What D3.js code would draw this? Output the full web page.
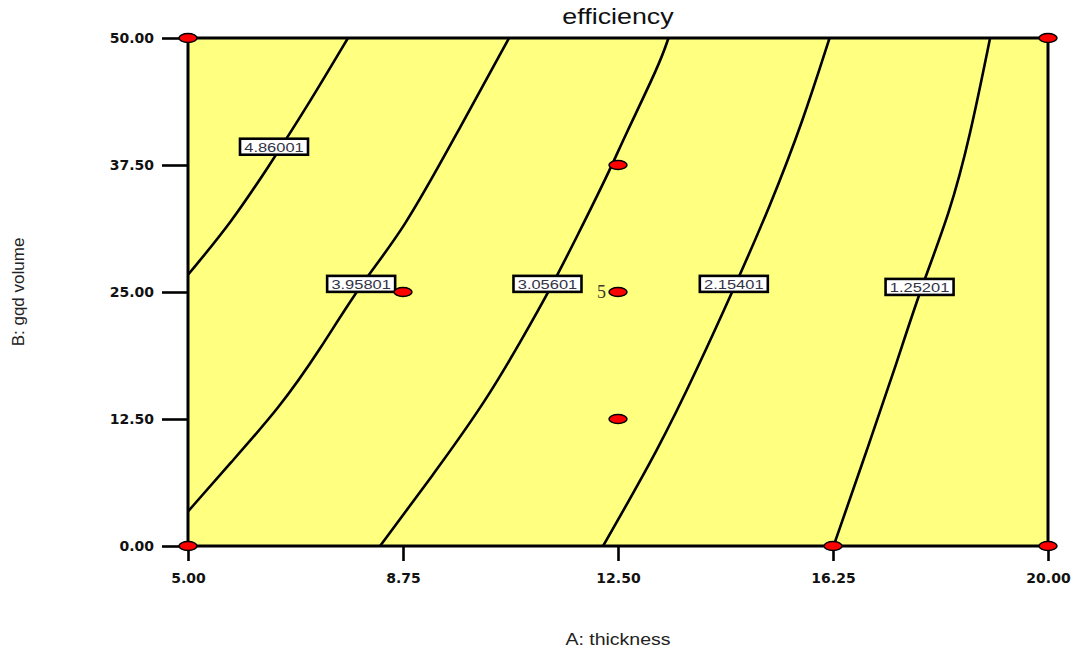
<!DOCTYPE html>
<html>
<head>
<meta charset="utf-8">
<script src="https://cdn.jsdelivr.net/npm/d3@7"></script>
<style>
  body { margin: 0; background: #fff; }
  svg { display: block; }
</style>
</head>
<body>
<script>
// A: thickness (x), B: gqd volume (y)
const aTicks = [5, 8.75, 12.5, 16.25, 20];
const bTicks = [0, 12.5, 25, 37.5, 50];

// contour levels of efficiency and the points [A, B]
const levels = ["4.86001", "3.95801", "3.05601", "2.15401", "1.25201"];
const contour486 = [[7.79, 50], [7.05, 43.0], [6.40, 37.3], [5.75, 31.8], [5.0, 26.7]];
const contour396 = [[10.60, 50], [9.63, 40.0], [8.76, 31.1], [8.0, 25.7], [7.30, 19.3], [6.61, 13.7], [5.73, 8.1], [5.0, 3.4]];
const contour306 = [[13.38, 50], [13.23, 47.5], [12.59, 40.0], [12.36, 37.0], [11.78, 30.4], [11.31, 25.2], [10.85, 20.6], [10.21, 14.4], [9.34, 7.5], [8.35, 0]];
const contour215 = [[16.19, 50], [15.73, 41.9], [15.15, 33.4], [14.51, 25.2], [13.87, 17.3], [13.23, 9.8], [12.24, 0]];
const contour125 = [[18.99, 50], [18.64, 40.3], [18.29, 32.8], [17.77, 25.2], [17.36, 18.0], [16.90, 10.4], [16.26, 0]];
const contours = [contour486, contour396, contour306, contour215, contour125];
// where each level label sits [A, B]
const labelAt = [[6.50, 39.3], [8.02, 25.8], [11.27, 25.8], [14.52, 25.8], [17.76, 25.5]];

// design points, the centre point has 5 replicates
const designPoints = [[5, 0], [5, 50], [20, 0], [20, 50], [8.75, 25], [12.5, 37.5], [12.5, 25], [12.5, 12.5], [16.25, 0]];
const replicates = [{a: 12.5, b: 25, n: 5}];

const W = 1076, H = 653;
const margin = {top: 38, right: 28, bottom: 107, left: 188};
const stretch = 1.22;

const svg = d3.select("body").append("svg")
  .attr("width", W)
  .attr("height", H);

const x = d3.scaleLinear().domain([5, 20]).range([margin.left, W - margin.right]);
const y = d3.scaleLinear().domain([0, 50]).range([H - margin.bottom, margin.top]);

svg.append("clipPath").attr("id", "plotclip")
  .append("rect")
  .attr("x", x(5)).attr("y", y(50))
  .attr("width", x(20) - x(5)).attr("height", y(0) - y(50));

// background
svg.append("rect")
  .attr("x", x(5)).attr("y", y(50))
  .attr("width", x(20) - x(5)).attr("height", y(0) - y(50))
  .attr("fill", "#ffff80");

// contour lines
const line = d3.line()
  .x(d => x(d[0]))
  .y(d => y(d[1]))
  .curve(d3.curveBasis);

svg.append("g").attr("clip-path", "url(#plotclip)")
  .selectAll("path")
  .data(contours)
  .enter()
  .append("path")
  .attr("d", line)
  .attr("fill", "none")
  .attr("stroke", "#000")
  .attr("stroke-width", 2.6);

// level labels
const labels = svg.append("g")
  .selectAll("g")
  .data(levels)
  .enter()
  .append("g")
  .attr("transform", (d, i) => "translate(" + x(labelAt[i][0]) + "," + y(labelAt[i][1]) + ")");

labels.append("rect")
  .attr("x", -34).attr("y", -8)
  .attr("width", 68).attr("height", 16)
  .attr("fill", "#fff")
  .attr("stroke", "#000")
  .attr("stroke-width", 2.6);

labels.append("text")
  .attr("transform", "scale(" + stretch + ",1)")
  .attr("y", 5)
  .attr("text-anchor", "middle")
  .style("font-family", "Arial, 'Liberation Sans', sans-serif")
  .style("font-size", "13.5px")
  .attr("fill", "#333344")
  .text(d => d);

// frame
svg.append("rect")
  .attr("x", x(5)).attr("y", y(50))
  .attr("width", x(20) - x(5)).attr("height", y(0) - y(50))
  .attr("fill", "none")
  .attr("stroke", "#000")
  .attr("stroke-width", 3);

// axes
const xAxis = svg.append("g")
  .attr("transform", "translate(0," + y(0) + ")")
  .call(d3.axisBottom(x).tickValues(aTicks).tickSize(15).tickPadding(12).tickFormat(d3.format(".2f")));

const yAxis = svg.append("g")
  .attr("transform", "translate(" + x(5) + ",0)")
  .call(d3.axisLeft(y).tickValues(bTicks).tickSize(26).tickPadding(8).tickFormat(d3.format(".2f")));

[xAxis, yAxis].forEach(ax => {
  ax.select(".domain").remove();
  ax.selectAll(".tick line").attr("stroke", "#000").attr("stroke-width", 2.6);
  ax.selectAll(".tick text")
    .attr("fill", "#111")
    .style("font-family", "'DejaVu Sans', Verdana, sans-serif")
    .style("font-weight", "bold")
    .style("font-size", "14px");
});

// design points
svg.append("g")
  .selectAll("ellipse")
  .data(designPoints)
  .enter()
  .append("ellipse")
  .attr("cx", d => x(d[0]))
  .attr("cy", d => y(d[1]))
  .attr("rx", 9)
  .attr("ry", 4.5)
  .attr("fill", "#ff0000")
  .attr("stroke", "#000")
  .attr("stroke-width", 1.5);

svg.append("g")
  .selectAll("text")
  .data(replicates)
  .enter()
  .append("text")
  .attr("x", d => x(d.a) - 12)
  .attr("y", d => y(d.b) + 6)
  .attr("text-anchor", "end")
  .style("font-family", "'Liberation Serif', 'Times New Roman', serif")
  .style("font-size", "18px")
  .attr("fill", "#3a3a2a")
  .text(d => d.n);

// title and axis titles
svg.append("text")
  .attr("transform", "translate(" + ((x(5) + x(20)) / 2) + ",24) scale(" + stretch + ",1)")
  .attr("text-anchor", "middle")
  .style("font-family", "Arial, 'Liberation Sans', sans-serif")
  .style("font-size", "22px")
  .attr("fill", "#111")
  .text("efficiency");

svg.append("text")
  .attr("transform", "translate(" + ((x(5) + x(20)) / 2) + ",645) scale(" + stretch + ",1)")
  .attr("text-anchor", "middle")
  .style("font-family", "Arial, 'Liberation Sans', sans-serif")
  .style("font-size", "16px")
  .attr("fill", "#222")
  .text("A: thickness");

svg.append("text")
  .attr("transform", "translate(24," + y(25) + ") rotate(-90)")
  .attr("text-anchor", "middle")
  .style("font-family", "Arial, 'Liberation Sans', sans-serif")
  .style("font-size", "17px")
  .attr("fill", "#222")
  .text("B: gqd volume");
</script>
</body>
</html>
